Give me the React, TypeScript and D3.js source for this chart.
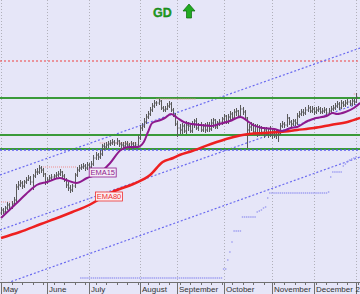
import React from "react";
import * as d3 from "d3";

const W = 360;
const H = 294;
const AXIS_Y = 282;

// ---- Axis / category data ----
const monthLabels = ["May", "June", "July", "August", "September", "October", "November", "December", "2"];
const monthStarts = [0, 22, 42, 66, 84, 106, 129, 149, 169];

// ---- Price series (daily OHLC) ----
const opens = [
  138.7,139.0,138.8,139.2,139.5,139.3,139.6,140.0,141.3,141.5,
  141.7,141.4,141.8,142.0,142.2,141.8,142.4,142.8,142.8,143.2,
  143.0,142.6,141.8,142.0,142.2,142.3,142.4,142.5,142.6,142.8,
  142.4,142.0,141.5,141.2,141.0,141.4,142.5,143.0,143.2,143.3,
  143.4,143.2,143.5,143.3,143.6,144.2,144.5,144.3,144.6,145.4,
  145.3,145.5,145.6,145.7,145.8,145.7,145.9,145.6,145.5,145.4,
  145.6,145.5,145.3,145.6,145.4,145.5,146.2,147.2,147.4,147.8,
  148.3,148.6,149.0,149.4,149.7,149.7,149.9,149.2,149.0,149.1,
  149.4,149.6,149.0,148.5,147.6,147.2,147.0,147.4,146.9,147.5,
  147.4,146.9,147.6,147.9,147.2,147.5,147.0,147.4,147.0,147.5,
  147.1,147.7,148.0,147.3,147.7,147.8,148.1,148.4,147.8,148.3,
  148.6,148.2,148.8,148.9,148.4,149.1,148.8,148.2,147.0,147.3,
  147.5,146.8,147.4,146.7,147.2,146.8,147.0,146.6,147.1,146.5,
  146.9,146.4,146.8,146.6,147.4,147.6,147.5,148.2,147.8,147.6,
  147.9,147.7,148.4,148.6,148.8,148.7,149.0,149.2,148.9,149.1,
  148.8,149.0,149.1,148.8,148.9,149.0,148.7,148.9,149.1,149.2,
  149.4,149.6,149.2,149.7,149.5,149.7,149.8,149.6,149.9,149.8,
];
const highs = [
  139.3,139.2,139.4,139.8,139.7,139.9,140.3,141.6,141.9,142.0,
  141.9,142.0,142.3,142.5,142.4,142.6,143.1,143.2,143.5,143.4,
  143.2,142.7,142.3,142.5,142.6,142.6,142.8,142.9,143.1,142.9,
  142.6,142.2,141.8,141.5,141.6,142.7,143.3,143.5,143.6,143.7,
  143.6,143.8,143.7,143.9,144.5,144.8,144.7,145.0,145.6,145.7,
  145.8,145.9,146.0,146.1,146.0,146.2,146.0,145.8,145.8,145.9,
  145.9,145.7,145.9,145.8,145.8,146.5,147.5,147.7,148.2,148.6,
  148.9,149.3,149.7,150.0,149.9,150.1,150.0,149.4,149.4,149.7,
  149.9,149.8,149.2,148.7,147.9,147.6,147.7,147.6,147.9,147.8,
  147.6,147.9,148.1,148.2,147.7,147.8,147.6,147.7,147.8,147.8,
  148.1,148.2,148.1,147.9,148.1,148.3,148.6,148.5,148.6,148.9,
  148.8,149.1,149.2,149.0,149.5,149.3,149.0,148.3,147.6,147.8,
  147.7,147.6,147.6,147.5,147.4,147.3,147.3,147.2,147.4,147.1,
  147.1,147.0,146.9,147.7,147.9,147.8,148.6,148.3,148.0,148.1,
  148.1,148.7,148.9,149.1,149.1,149.3,149.5,149.4,149.4,149.3,
  149.3,149.4,149.3,149.2,149.3,149.2,149.2,149.4,149.5,149.7,
  149.9,149.8,150.0,149.9,150.0,150.1,150.0,150.2,150.1,150.7,
];
const lows = [
  138.5,138.6,138.6,139.0,139.1,139.1,139.4,139.8,141.0,141.3,
  141.1,141.2,141.6,141.9,141.5,141.0,142.2,142.5,142.6,142.7,
  142.3,141.5,141.6,141.8,142.0,142.1,142.2,142.3,142.4,142.2,
  141.8,141.2,140.9,140.7,140.8,141.2,142.3,142.8,143.0,143.1,
  142.9,143.0,143.0,143.1,143.4,144.0,144.0,144.1,144.4,145.0,
  145.1,145.2,145.4,145.5,145.4,145.5,145.3,145.2,145.1,145.2,
  145.2,145.0,145.1,145.1,145.2,145.3,146.0,146.9,147.2,147.6,
  148.1,148.4,148.8,149.2,149.4,149.5,149.0,148.8,148.8,149.0,
  149.2,148.8,148.3,147.4,146.3,146.6,146.6,146.7,146.6,146.9,
  146.7,146.7,147.2,147.0,146.9,146.8,146.8,146.7,146.8,146.8,
  146.9,147.2,147.1,147.1,147.4,147.5,147.8,147.6,147.6,148.0,
  147.9,148.0,148.4,148.2,148.2,148.5,148.0,145.2,146.7,146.9,
  146.6,146.5,146.3,146.4,146.5,146.2,146.4,146.2,146.3,146.1,
  146.2,146.1,145.8,146.5,147.2,147.2,147.3,147.5,147.3,147.4,
  147.4,147.5,148.2,148.4,148.4,148.5,148.8,148.7,148.7,148.5,
  148.6,148.8,148.6,148.6,148.7,148.5,148.5,148.7,148.9,149.0,
  149.2,149.0,149.1,149.3,149.3,149.5,149.4,149.4,149.5,149.7,
];
const closes = [
  139.0,138.8,139.2,139.5,139.3,139.6,140.0,141.3,141.5,141.7,
  141.4,141.8,142.0,142.2,141.8,142.4,142.8,142.8,143.2,143.0,
  142.6,141.8,142.0,142.2,142.3,142.4,142.5,142.6,142.8,142.4,
  142.0,141.5,141.2,141.0,141.4,142.5,143.0,143.2,143.3,143.4,
  143.2,143.5,143.3,143.6,144.2,144.5,144.3,144.6,145.4,145.3,
  145.5,145.6,145.7,145.8,145.7,145.9,145.6,145.5,145.4,145.6,
  145.5,145.3,145.6,145.4,145.5,146.2,147.2,147.4,147.8,148.3,
  148.6,149.0,149.4,149.7,149.7,149.9,149.2,149.0,149.1,149.4,
  149.6,149.0,148.5,147.6,147.2,147.0,147.4,146.9,147.5,147.4,
  146.9,147.6,147.9,147.2,147.5,147.0,147.4,147.0,147.5,147.1,
  147.7,148.0,147.3,147.7,147.8,148.1,148.4,147.8,148.3,148.6,
  148.2,148.8,148.9,148.4,149.1,148.8,148.2,147.0,147.3,147.5,
  146.8,147.4,146.7,147.2,146.8,147.0,146.6,147.1,146.5,146.9,
  146.4,146.8,146.6,147.4,147.6,147.5,148.2,147.8,147.6,147.9,
  147.7,148.4,148.6,148.8,148.7,149.0,149.2,148.9,149.1,148.8,
  149.0,149.1,148.8,148.9,149.0,148.7,148.9,149.1,149.2,149.4,
  149.6,149.2,149.7,149.5,149.7,149.8,149.6,149.9,149.8,150.3,
];

// ---- Indicator series (day index, value) ----
const ema15Days = [0,4,9,14,17,22,28,31,36,41,47,52,57,61,65,68,70,72,76,78,81,84,87,91,95,100,104,109,114,118,120,125,130,134,138,141,146,150,155,158,160,164,168,171];
const ema15Vals = [138.2,139.0,140.0,141.0,141.5,141.8,142.2,142.0,141.7,142.2,142.7,143.7,145.0,145.3,145.3,145.8,146.8,147.7,148.0,148.2,148.6,148.2,147.8,147.6,147.5,147.4,147.6,147.9,148.3,147.8,147.5,147.2,147.1,146.9,147.2,147.3,147.9,148.2,148.4,148.7,148.6,148.8,149.2,149.7];
const ema80Days = [0,9,19,28,34,42,47,53,63,71,77,82,85,91,100,109,115,125,133,141,149,157,165,171];
const ema80Vals = [136.2,136.8,137.6,138.3,138.8,139.5,140.1,140.8,141.6,142.5,143.8,144.2,144.5,144.9,145.6,146.2,146.5,146.7,146.8,147.0,147.2,147.5,147.8,148.2];

// trailing stop runs: [fromDay, toDay, level]
const stopRuns: [number, number, number][] = [
  [38,105,132.2],[106,107,133.1],[108,108,134.0],[109,109,134.8],[110,110,135.8],
  [111,114,136.9],[115,121,138.3],[122,122,138.8],[123,123,138.9],[124,124,139.0],
  [125,125,139.2],[126,126,139.3],[127,127,140.2],[128,155,140.7],[156,156,140.8],
  [157,157,142.3],[158,162,142.8],[163,163,143.4],[164,164,143.6],[165,165,143.8],
  [166,166,144.0],[167,167,144.1],[168,168,144.2],[169,169,144.3],
];

// previous-high markers: [fromDay, toDay, level]
const highMarks: [number, number, number][] = [
  [0,5,139.8],[20,36,143.3],[47,65,145.7],[74,93,150.1],[168,170,150.6],
];

// horizontal levels
const greenLevels = [150.2, 146.5, 145.1];
const redLevels = [153.9];
const blueLevels = [145.0];

// trend channel lines: [day0, value0, day1, value1]
const channels: [number, number, number, number][] = [
  [-0.5, 142.5, 171, 155.2],
  [-0.5, 137.0, 171, 149.7],
  [-0.5, 131.44, 171, 144.3],
];

const emaLabels = [
  { text: "EMA15", day: 42, value: 142.3, color: "#8e1a8e", fill: "#f4ecf6" },
  { text: "EMA80", day: 45, value: 139.9, color: "#ee3030", fill: "#fbeef2" },
];

const x = d3.scaleLinear().domain([0, 170]).range([1, 358]);
const y = d3.scaleLinear().domain([131.9, 160]).range([281, 0]);

export default function App() {
  const line = d3
    .line<[number, number]>()
    .x((d) => x(d[0]))
    .y((d) => y(d[1]))
    .curve(d3.curveMonotoneX);
  const ema15 = ema15Days.map((d, i) => [d, ema15Vals[i]] as [number, number]);
  const ema80 = ema80Days.map((d, i) => [d, ema80Vals[i]] as [number, number]);
  const minorTicks = d3.range(0, 171, 5);
  const stopDots: [number, number][] = [];
  stopRuns.forEach(([a, b, v]) => {
    for (let d = a; d <= b; d++) stopDots.push([d, v]);
  });
  const px = (i: number) => Math.round(x(i)) + 0.5;

  return (
    <svg
      width={W}
      height={H}
      style={{ position: "absolute", left: 0, top: 0, fontFamily: "Arial, 'Liberation Sans', sans-serif" }}
    >
      <defs>
        <clipPath id="plot">
          <rect x={0} y={0} width={W} height={AXIS_Y} />
        </clipPath>
      </defs>
      <rect x={0} y={0} width={W} height={H} fill="#e6e6f8" />
      <g clipPath="url(#plot)">
        {monthStarts.map((m, i) => (
          <line key={"g" + i} x1={px(m)} x2={px(m)} y1={0} y2={AXIS_Y} stroke="#b0b0ba" strokeDasharray="1,2" />
        ))}
        {redLevels.map((v, i) => (
          <line key={"r" + i} x1={0} x2={W} y1={y(v)} y2={y(v)} stroke="#ee4040" strokeDasharray="2,2" strokeWidth={1} />
        ))}
        {channels.map((c, i) => (
          <line key={"c" + i} x1={x(c[0])} y1={y(c[1])} x2={x(c[2])} y2={y(c[3])} stroke="#6a6af0" strokeDasharray="2,2" strokeWidth={1.2} />
        ))}
        {stopDots.map((d, i) => (
          <rect key={"s" + i} x={x(d[0]) - 0.7} y={y(d[1]) - 0.7} width={1.4} height={1.4} fill="#9a9af0" />
        ))}
        {greenLevels.map((v, i) => (
          <line key={"gl" + i} x1={0} x2={W} y1={y(v)} y2={y(v)} stroke="#3a9a3a" strokeWidth={2} />
        ))}
        {blueLevels.map((v, i) => (
          <line key={"bl" + i} x1={0} x2={W} y1={y(v)} y2={y(v)} stroke="#5a5af0" strokeDasharray="2,2" strokeWidth={1.3} />
        ))}
        {highMarks.map((m, i) => (
          <line key={"h" + i} x1={x(m[0])} x2={x(m[1])} y1={y(m[2])} y2={y(m[2])} stroke="#f09090" strokeDasharray="1,1" strokeWidth={1} />
        ))}
        {closes.map((c, i) => (
          <g key={"k" + i} stroke="#5a5a5a" strokeWidth={1}>
            <line x1={px(i)} x2={px(i)} y1={y(highs[i])} y2={y(lows[i])} />
            <line x1={px(i) - 1} x2={px(i)} y1={y(opens[i])} y2={y(opens[i])} />
            <line x1={px(i)} x2={px(i) + 1} y1={y(c)} y2={y(c)} />
          </g>
        ))}
        <path d={line(ema80) || ""} fill="none" stroke="#ee2020" strokeWidth={2.5} />
        <path d={line(ema15) || ""} fill="none" stroke="#8e1a8e" strokeWidth={2} />
        {emaLabels.map((l, i) => (
          <g key={"l" + i}>
            <rect x={x(l.day)} y={y(l.value) - 9} width={27} height={9} fill={l.fill} stroke={l.color} strokeWidth={0.8} />
            <text x={x(l.day) + 13.5} y={y(l.value) - 1.6} fontSize={7.5} fill={l.color} textAnchor="middle">
              {l.text}
            </text>
          </g>
        ))}
      </g>
      <text x={153} y={17} fontSize={12.5} fontWeight="bold" fill="#1e9e1e" stroke="#0a700a" strokeWidth={0.3}>
        GD
      </text>
      <path d="M183,11 L189,4 L195,11 L191.5,11 L191.5,18 L186.5,18 L186.5,11 Z" fill="#22aa22" stroke="#0a6a0a" strokeWidth={0.7} />
      <line x1={0} x2={W} y1={AXIS_Y + 0.5} y2={AXIS_Y + 0.5} stroke="#707070" />
      {minorTicks.map((t, i) => (
        <line key={"mt" + i} x1={px(t)} x2={px(t)} y1={AXIS_Y} y2={AXIS_Y + 3} stroke="#707070" />
      ))}
      {monthStarts.map((m, i) => (
        <g key={"mx" + i}>
          <line x1={px(m)} x2={px(m)} y1={AXIS_Y} y2={H} stroke="#707070" />
          <text x={Math.min(px(m) + 1.5, W - 4.5)} y={291.5} fontSize={8} fill="#333">
            {monthLabels[i]}
          </text>
        </g>
      ))}
    </svg>
  );
}
